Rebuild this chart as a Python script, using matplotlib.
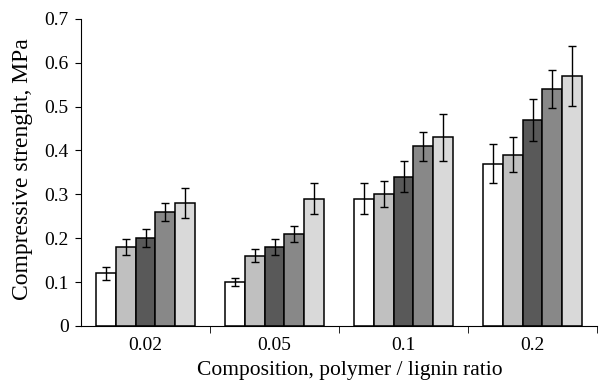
import numpy as np
import matplotlib
matplotlib.use('Agg')
import matplotlib.pyplot as plt

plt.rcParams['font.family'] = ['Liberation Serif', 'DejaVu Serif']

##########
# Data   #
##########
ratios = ['0.02', '0.05', '0.1', '0.2']
strength = [
	[0.12, 0.18, 0.20, 0.26, 0.28],
	[0.10, 0.16, 0.18, 0.21, 0.29],
	[0.29, 0.30, 0.34, 0.41, 0.43],
	[0.37, 0.39, 0.47, 0.54, 0.57],
]
errors = [
	[0.015, 0.018, 0.020, 0.020, 0.035],
	[0.010, 0.015, 0.018, 0.018, 0.035],
	[0.035, 0.030, 0.035, 0.033, 0.053],
	[0.045, 0.040, 0.048, 0.044, 0.068],
]
colors = ['#ffffff', '#c0c0c0', '#595959', '#888888', '#d9d9d9']

strength = np.array( strength )
errors = np.array( errors )

fig = plt.figure( figsize = ( 6, 3.87 ), dpi = 100 )
ax = fig.add_axes( [0.135, 0.158, 0.86, 0.793] )

x = np.arange( len( ratios ) )
width = 0.152
n = strength.shape[1]

for i in range( n ):
	pos = x + ( i - ( n - 1 ) / 2 ) * width
	ax.bar( pos, strength[:, i], width, color = colors[i], edgecolor = 'black', linewidth = 1.1, zorder = 2 )
	ax.errorbar( pos, strength[:, i], yerr = errors[:, i], fmt = 'none', ecolor = 'black',
		elinewidth = 1.0, capsize = 3, capthick = 1.0, zorder = 3 )

ax.set_xlim( -0.5, len( ratios ) - 0.5 )
ax.set_ylim( 0, 0.7 )
ax.set_yticks( np.arange( 0, 0.71, 0.1 ) )
ax.set_yticklabels( ['0'] + ['%.1f' % v for v in np.arange( 0.1, 0.71, 0.1 )] )

ax.set_xticks( x )
ax.set_xticklabels( ratios )
ax.tick_params( axis = 'x', which = 'major', length = 0, labelsize = 14, pad = 8 )
ax.set_xticks( np.arange( 0.5, len( ratios ), 1 ), minor = True )
ax.tick_params( axis = 'x', which = 'minor', length = 5, direction = 'out' )
ax.tick_params( axis = 'y', length = 4, direction = 'out', labelsize = 14, pad = 5 )

ax.spines['top'].set_visible( False )
ax.spines['right'].set_visible( False )

ax.set_xlabel( 'Composition, polymer / lignin ratio', fontsize = 15.5 )
ax.set_ylabel( 'Compressive strenght, MPa', fontsize = 17 )
ax.xaxis.set_label_coords( 0.521, -0.115 )
ax.yaxis.set_label_coords( -0.093, 0.51 )

fig.savefig( 'out.png', dpi = 100 )
